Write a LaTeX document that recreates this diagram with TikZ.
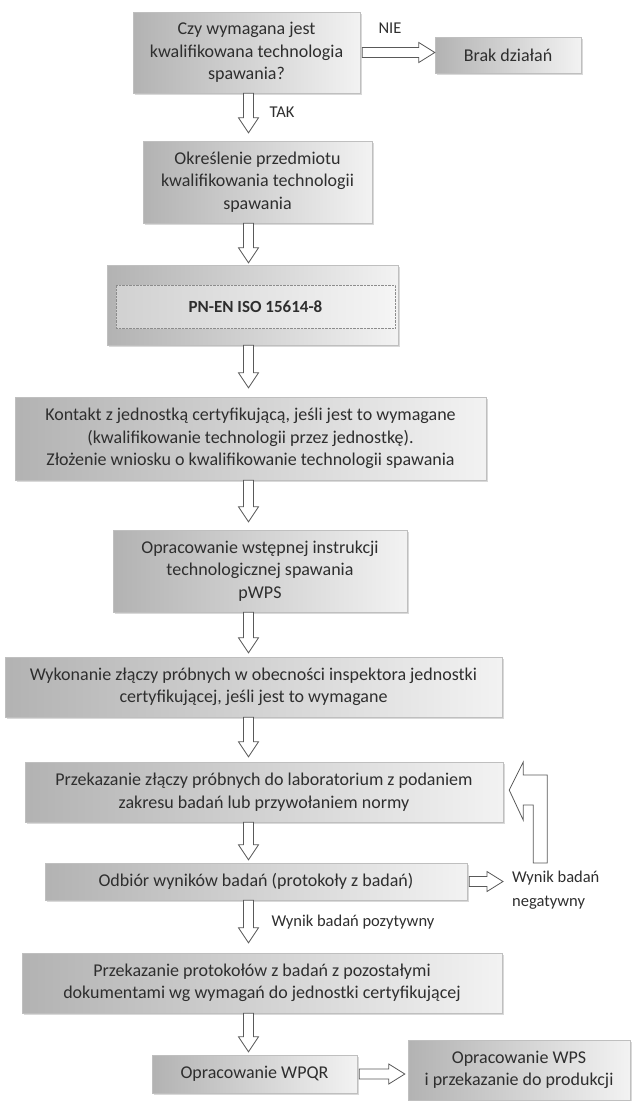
\documentclass[tikz,border=0pt]{standalone}
\usepackage{fontspec}
\setmainfont{Carlito}
\usepackage{tikz}
\usetikzlibrary{positioning}
\usetikzlibrary{shapes,arrows}
\usetikzlibrary{shadows,calc}
\tikzset{%
  block/.style    = {draw=black!25, rectangle, inner sep=0pt, align=center,
    left color=black!30, right color=black!5, text=black!82,
    drop shadow={shadow xshift=1.5pt, shadow yshift=-1.5pt, opacity=0.3},
    font=\fontsize{18}{22.5}\selectfont},
  normbox/.style  = {draw=black!45, densely dotted, rectangle, inner sep=0pt,
    left color=black!18, right color=black!4, text=black!82,
    font=\bfseries\fontsize{17}{20}\selectfont}, % inner frame
  note/.style     = {text=black!82, inner sep=0pt, align=left,
    font=\fontsize{16.5}{24}\selectfont}, % arrow labels
  barrow/.style   = {draw=black!65, fill=white, line width=0.8pt} % block arrow
}
% block arrow down: [gap]{from}{to}
\newcommand{\vblockarrow}[3][5pt]{%
  \draw[barrow] let \p1=(#2.south -| axis), \p2=(#3.north -| axis) in
    ({\x1-5pt},\y1) -- ({\x1-5pt},{\y2+#1+15pt}) -- ({\x1-10pt},{\y2+#1+15pt})
    -- (\x1,{\y2+#1}) -- ({\x1+10pt},{\y2+#1+15pt}) -- ({\x1+5pt},{\y2+#1+15pt})
    -- ({\x1+5pt},\y1) -- cycle;}
% block arrow right: [gap]{from}{to}
\newcommand{\hblockarrow}[3][2pt]{%
  \draw[barrow] let \p1=(#2.east), \p2=(#3.west) in
    ({\x1+2pt},{\y1+5pt}) -- ({\x2-#1-16pt},{\y1+5pt}) -- ({\x2-#1-16pt},{\y1+10pt})
    -- ({\x2-#1},\y1) -- ({\x2-#1-16pt},{\y1-10pt}) -- ({\x2-#1-16pt},{\y1-5pt})
    -- ({\x1+2pt},{\y1-5pt}) -- cycle;}

\begin{document}
\begin{tikzpicture}[x=1pt, y=-1pt]
  \useasboundingbox (0,0) rectangle (633,1101);
  \coordinate (axis) at (248.5,0);

  \draw node at (246.5,52.5) [block, minimum width=227pt, minimum height=81pt] (quest)
    {Czy wymagana jest\\kwalifikowana technologia\\spawania?};
  \draw node at (508,55) [block, minimum width=146pt, minimum height=36pt] (brak)
    {Brak działań};
  \draw node at (257.5,182) [block, minimum width=229pt, minimum height=82pt] (przedm)
    {Określenie przedmiotu\\kwalifikowania technologii\\spawania};
  \draw node at (252.5,305) [block, minimum width=291pt, minimum height=80pt] (norma) {};
  \draw node at (255.5,306.5) [normbox, minimum width=279pt, minimum height=43pt] (normtxt)
    {PN-EN ISO 15614-8};
  \draw node at (250.5,438.5) [block, minimum width=471pt, minimum height=83pt] (kontakt)
    {Kontakt z jednostką certyfikującą, jeśli jest to wymagane\\
     (kwalifikowanie technologii przez jednostkę).\\
     Złożenie wniosku o kwalifikowanie technologii spawania};
  \draw node at (260,571) [block, minimum width=294pt, minimum height=82pt] (pwps)
    {Opracowanie wstępnej instrukcji\\technologicznej spawania\\pWPS};
  \draw node at (253.5,687) [block, minimum width=497pt, minimum height=60pt] (wykon)
    {Wykonanie złączy próbnych w obecności inspektora jednostki\\
     certyfikującej, jeśli jest to wymagane};
  \draw node at (264,792) [block, minimum width=478pt, minimum height=60pt] (lab)
    {Przekazanie złączy próbnych do laboratorium z podaniem\\
     zakresu badań lub przywołaniem normy};
  \draw node at (256,881.5) [block, minimum width=422pt, minimum height=37pt] (odbior)
    {Odbiór wyników badań (protokoły z badań)};
  \draw node at (262,983) [block, minimum width=480pt, minimum height=60pt] (protok)
    {Przekazanie protokołów z badań z pozostałymi\\
     dokumentami wg wymagań do jednostki certyfikującej};
  \draw node at (254.5,1074) [block, minimum width=205pt, minimum height=38pt] (wpqr)
    {Opracowanie WPQR};
  \draw node at (519,1070) [block, minimum width=222pt, minimum height=60pt] (wps)
    {Opracowanie WPS\\i przekazanie do produkcji};

  \node[note] at (390,28) (nie) {NIE};
  \node[note] at (282,112) (tak) {TAK};
  \node[note] at (353,922) (pozyt) {Wynik badań pozytywny};
  \node[note, anchor=west] at (512,890) (negat) {Wynik badań\\negatywny};

  \vblockarrow[8pt]{quest}{przedm}
  \vblockarrow[2pt]{przedm}{norma}
  \vblockarrow[9pt]{norma}{kontakt}
  \vblockarrow[8pt]{kontakt}{pwps}
  \vblockarrow[4pt]{pwps}{wykon}
  \vblockarrow[5pt]{wykon}{lab}
  \vblockarrow[3pt]{lab}{odbior}
  \vblockarrow[10pt]{odbior}{protok}
  \vblockarrow[3pt]{protok}{wpqr}

  \hblockarrow[0pt]{quest}{brak}
  \hblockarrow[9pt]{odbior}{negat}
  \hblockarrow[3pt]{wpqr}{wps}

  % back to the laboratory
  \draw[barrow] ([xshift=6pt,yshift=2pt]lab.east) -- ++(14,-28) -- ++(0,13) -- ++(24,0)
    -- ++(0,88) -- ++(-14,0) -- ++(0,-58) -- ++(-10,0) -- ++(0,15) -- cycle;
\end{tikzpicture}
\end{document}
